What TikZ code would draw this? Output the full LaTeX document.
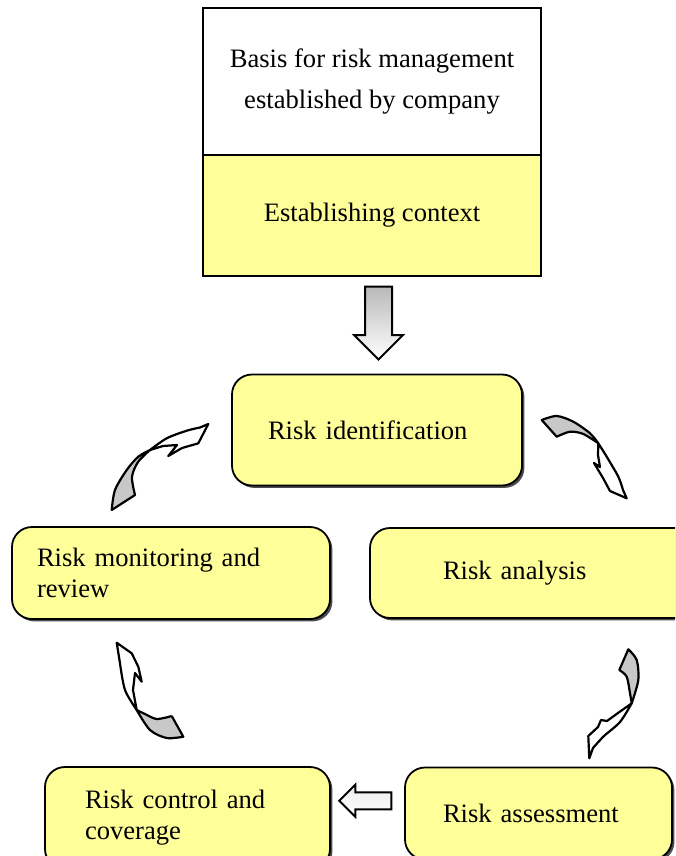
\documentclass[tikz,border=0pt]{standalone}
\usepackage{fontspec}
\setmainfont{Liberation Serif}
\usetikzlibrary{shapes.arrows,shadows,calc}
\definecolor{boxyellow}{RGB}{255,255,153}
\definecolor{tailgray}{RGB}{200,200,200}

\begin{document}
\begin{tikzpicture}[x = 0.5pt, y = -0.5pt, font = \fontsize{13.3}{20.5}\selectfont,
	every node/.style = {draw = black, line width = 0.9pt, text = black, inner ysep = 0pt},
	plainbox/.style = {rectangle, align = center},
	stage/.style = {rectangle, rounded corners = 10pt, fill = boxyellow, align = left, font = \fontsize{13.3}{15.5}\selectfont,
		drop shadow = {shadow xshift = 1.2pt, shadow yshift = -1.2pt, fill = black!70, opacity = 1}},
	blockarrow/.style = {single arrow, single arrow head indent = 0pt, line width = 1pt},
	twisttail/.style = {draw = black, line width = 1.1pt, fill = tailgray, line join = round},
	twisthead/.style = {draw = black, line width = 1.1pt, fill = white, line join = round}]

	\useasboundingbox (0,0) rectangle (675,856);
	\clip (0,0) rectangle (675,856);

	\node (basis)   at (372, 81.5) [plainbox, fill = white, minimum width = 169pt, minimum height = 73.5pt] {Basis for risk management\\established by company};
	\node (context) at (372,215.5) [plainbox, fill = boxyellow, minimum width = 169pt, minimum height = 60.5pt] {Establishing context};

	\node (ident)    at (377,430)   [stage, text width = 109pt,   inner xsep = 18pt,   minimum height = 55.5pt] {Risk identification};
	\node (monitor)  at (171,573)   [stage, text width = 134pt,   inner xsep = 12.5pt, minimum height = 46pt] {Risk monitoring and\\review};
	\node (analysis) at (535,573)   [stage, text width = 92pt,    inner xsep = 36.5pt, minimum height = 45pt] {Risk analysis};
	\node (control)  at (187.5,818) [stage, text width = 102.5pt, inner xsep = 20pt,   minimum height = 51pt] {Risk control and\\coverage};
	\node (assess)   at (538.5,813.5) [stage, text width = 95.5pt, inner xsep = 19pt,  minimum height = 46pt] {Risk assessment};

	\node (down) at ($(context.south)!0.5!(ident.north)$) [blockarrow, shape border rotate = 270, inner sep = 6.25pt, minimum height = 36.5pt, minimum width = 24pt,
		single arrow head extend = 5.5pt, top color = gray!55, bottom color = white, xshift = 2pt, yshift = 4.5pt] {};
	\node (back) at ($(assess.west)!0.5!(control.east)$) [blockarrow, shape border rotate = 180, inner sep = 3.75pt, minimum height = 26pt, minimum width = 15pt,
		single arrow head extend = 3.75pt, top color = gray!15, bottom color = white, xshift = 1pt, yshift = 7.5pt] {};

	% monitor -> identification
	\draw[twisttail] (111.7,510) -- plot[smooth] coordinates {(111.7,510) (115,490) (126.7,470) (138.3,456.7) (150,450)}
		-- plot[smooth] coordinates {(150,450) (138,462) (132,477) (135,495)} -- cycle;
	\draw[twisthead] (150,450) -- plot[smooth] coordinates {(150,450) (166.7,438.3) (186.7,430.7) (200,427.5)}
		-- (208.3,424) -- (198.3,443.3) -- (182,448) -- (168.3,456) -- (177,445) -- (163,446) -- cycle;

	% identification -> analysis
	\draw[twisttail] (541.7,420) -- plot[smooth] coordinates {(541.7,420) (556.7,416) (573.3,421.7) (590,433.3) (598.3,443.3)}
		-- plot[smooth] coordinates {(598.3,443.3) (583.3,434) (570,431.7) (556.7,436.7)} -- cycle;
	\draw[twisthead] (598.3,443.3) -- plot[smooth] coordinates {(598.3,443.3) (606.7,456.7) (618.3,476.7) (623,490)}
		-- (626.7,498.3) -- (610,491) -- (603,478) -- (594,463) -- (600,467) -- (598,455) -- cycle;

	% analysis -> assessment
	\draw[twisttail] (628.3,649.3) -- plot[smooth] coordinates {(628.3,649.3) (636.7,660) (638.3,680) (631.7,703.3)}
		-- plot[smooth] coordinates {(631.7,703.3) (630,693.3) (626.7,676.7) (619.3,670)} -- cycle;
	\draw[twisthead] (631.7,703.3) -- plot[smooth] coordinates {(631.7,703.3) (620,722) (604,736) (593,748)}
		-- (589.3,758.3) -- (588.3,736) -- (598,727) -- (601,720) -- (607,721) -- (618,713) -- cycle;

	% control -> monitor
	\draw[twisttail] (171.7,716) -- (183.3,736.7) -- plot[smooth] coordinates {(183.3,736.7) (166.7,738) (150,730) (136.7,710)}
		-- plot[smooth] coordinates {(136.7,710) (145,714) (156.7,719) (171.7,716)};
	\draw[twisthead] (136.7,710) -- plot[smooth] coordinates {(136.7,710) (125,690) (120,663.3)}
		-- (116.7,642.7) -- (131.7,653.3) -- (138.3,666.7) -- (141.7,681.7) -- (135,673) -- (133,690) -- cycle;
\end{tikzpicture}
\end{document}
